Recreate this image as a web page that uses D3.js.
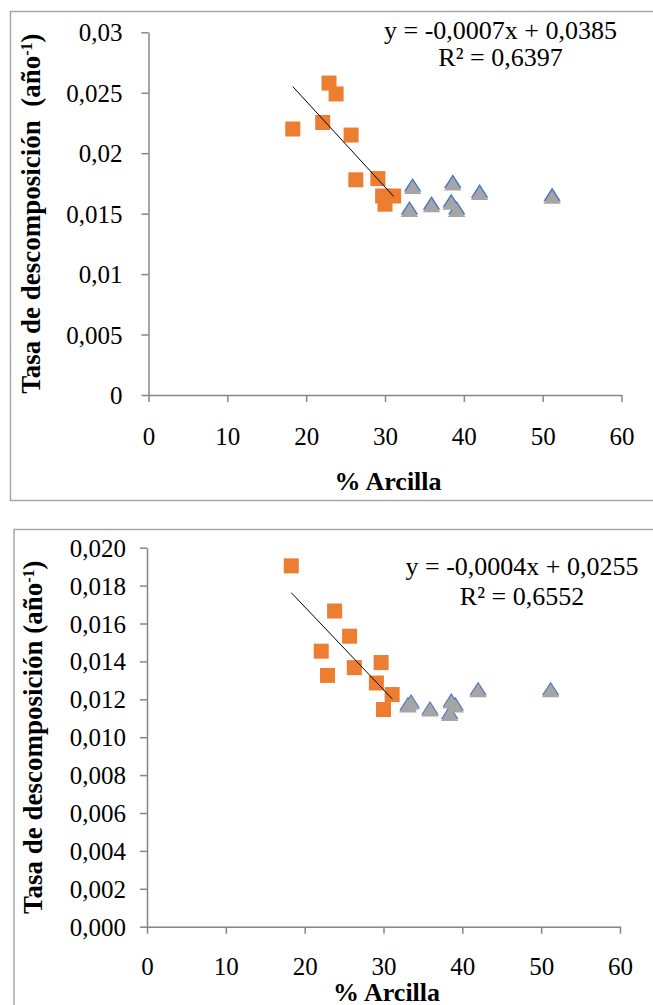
<!DOCTYPE html>
<html>
<head>
<meta charset="utf-8">
<script src="https://cdn.jsdelivr.net/npm/d3@7"></script>
<style>
  body { margin: 0; background: #fff; }
  svg text { font-family: "Liberation Serif", "Tinos", "DejaVu Serif", "Times New Roman", serif; }
  .title { white-space: pre; }
</style>
</head>
<body>
<div id="chart"></div>
<script>
// Clay content (%) - shared by both charts
var claySquares = [18.3, 22.1, 22.9, 23.8, 25.7, 26.3, 29.1, 29.7, 30.0, 31.1];
var clayTriangles = [33.5, 33.1, 35.9, 38.6, 38.4, 39.1, 42.0, 51.2];

// Top chart: decomposition rate
var topSquares = [0.0220, 0.02254, 0.0258, 0.0249, 0.0215, 0.0178, 0.0179, 0.01646, 0.01578, 0.01646];
var topGray = [0.0170, 0.0151, 0.0155, 0.0173, 0.0157, 0.0151, 0.0165, 0.0162];
var topBlue = [0.0172, 0.0153, 0.0157, 0.0175, 0.0159, 0.0153, 0.0167, 0.0164];

// Bottom chart: decomposition rate
var botSquares = [0.01904, 0.01454, 0.01326, 0.01666, 0.01533, 0.01367, 0.01286, 0.01394, 0.01146, 0.01225];
var botGray = [0.01170, 0.01155, 0.01133, 0.01175, 0.01110, 0.01155, 0.01235, 0.01235];
var botBlue = [0.01180, 0.01165, 0.01143, 0.01185, 0.01120, 0.01165, 0.01245, 0.01245];

// Ticks
var xTicks = [0, 10, 20, 30, 40, 50, 60];
var topYTicks = [0, 0.005, 0.01, 0.015, 0.02, 0.025, 0.03];
var topYLabels = ["0", "0,005", "0,01", "0,015", "0,02", "0,025", "0,03"];
var botYTicks = [0, 0.002, 0.004, 0.006, 0.008, 0.01, 0.012, 0.014, 0.016, 0.018, 0.02];
var botYLabels = ["0,000", "0,002", "0,004", "0,006", "0,008", "0,010", "0,012", "0,014", "0,016", "0,018", "0,020"];

var topEquation = ["y = -0,0007x + 0,0385", "R² = 0,6397"];
var botEquation = ["y = -0,0004x + 0,0255", "R² = 0,6552"];

var svg = d3.select("#chart").append("svg").attr("width", 653).attr("height", 1005);

function drawPanel(p) {
  // outer frame
  svg.append("rect")
    .attr("x", p.frame[0]).attr("y", p.frame[1])
    .attr("width", p.frame[2]).attr("height", p.frame[3])
    .attr("fill", "none").attr("stroke", "#a6a6a6").attr("stroke-width", 1.5);

  var x = d3.scaleLinear().domain([0, 60]).range([p.left, p.right]);
  var y = d3.scaleLinear().domain([0, p.yMax]).range([p.bottom, p.top]);

  var yAxis = svg.append("g")
    .attr("transform", "translate(" + p.left + ",0)")
    .call(d3.axisLeft(y).tickValues(p.yTicks)
      .tickFormat(function (d, i) { return p.yLabels[i]; })
      .tickSize(7).tickSizeOuter(0).tickPadding(p.yPad));
  var xAxis = svg.append("g")
    .attr("transform", "translate(0," + p.bottom + ")")
    .call(d3.axisBottom(x).tickValues(xTicks).tickSize(7).tickSizeOuter(0));

  [yAxis, xAxis].forEach(function (a) {
    a.attr("font-family", null);
    a.select(".domain").attr("stroke", "#868686").attr("stroke-width", 1.5);
    a.selectAll(".tick line").attr("stroke", "#868686").attr("stroke-width", 1.5);
    a.selectAll("text").attr("fill", "#000").style("font-size", "25px");
  });
  yAxis.selectAll("text").attr("dy", "0.34em");
  xAxis.selectAll("text").attr("y", p.xLabelY).attr("dy", 0);

  // triangles: blue series underneath, gray on top
  var tri = d3.symbol().type(d3.symbolTriangle).size(120);
  [[p.blue, "#4472c4"], [p.gray, "#a5a5a5"]].forEach(function (s) {
    svg.append("g").selectAll("path")
      .data(clayTriangles)
      .enter()
      .append("path")
      .attr("d", tri)
      .attr("transform", function (d, i) {
        return "translate(" + x(d) + "," + y(s[0][i]) + ") scale(1.05,0.95)";
      })
      .attr("fill", s[1]);
  });

  // squares
  var sq = 15;
  svg.append("g").selectAll("rect")
    .data(claySquares)
    .enter()
    .append("rect")
    .attr("x", function (d) { return x(d) - sq / 2; })
    .attr("y", function (d, i) { return y(p.squares[i]) - sq / 2; })
    .attr("width", sq).attr("height", sq)
    .attr("fill", "#ed7d31");

  // linear trendline (least squares on square series)
  var mx = d3.mean(claySquares), my = d3.mean(p.squares);
  var sxy = d3.sum(claySquares, function (d, i) { return (d - mx) * (p.squares[i] - my); });
  var sxx = d3.sum(claySquares, function (d) { return (d - mx) * (d - mx); });
  var slope = sxy / sxx, icpt = my - slope * mx;
  var ext = d3.extent(claySquares);
  svg.append("line")
    .attr("x1", x(ext[0])).attr("y1", y(icpt + slope * ext[0]))
    .attr("x2", x(ext[1])).attr("y2", y(icpt + slope * ext[1]))
    .attr("stroke", "#000").attr("stroke-width", 1);

  // equation
  p.equation.forEach(function (t, i) {
    svg.append("text")
      .attr("x", p.eqX).attr("y", p.eqY[i])
      .attr("text-anchor", "middle")
      .style("font-size", "26px")
      .text(t);
  });

  // axis titles
  svg.append("text")
    .attr("x", (p.left + p.right) / 2 + 3)
    .attr("y", p.xTitleY)
    .attr("text-anchor", "middle")
    .style("font-size", "26px").style("font-weight", "bold")
    .text("% Arcilla");

  var yt = svg.append("text")
    .attr("class", "title")
    .attr("transform", "translate(" + p.yTitleX + "," + (p.top + p.bottom) / 2 + ") rotate(-90)")
    .attr("text-anchor", "middle")
    .style("font-size", "27px").style("font-weight", "bold");
  yt.append("tspan").text(p.yTitle + "(año");
  yt.append("tspan").attr("baseline-shift", "super").style("font-size", "16px").text("-1");
  yt.append("tspan").text(")");
}

drawPanel({
  frame: [10.5, 11.5, 660, 489],
  left: 148.5, right: 621.5, top: 32.3, bottom: 395,
  yMax: 0.03, yTicks: topYTicks, yLabels: topYLabels, yPad: 19, xLabelY: 50,
  squares: topSquares, gray: topGray, blue: topBlue,
  equation: topEquation, eqX: 500.5, eqY: [38.5, 65.5],
  xTitleY: 490, yTitleX: 40, yTitle: "Tasa de descomposición  "
});

drawPanel({
  frame: [14, 529.5, 660, 500],
  left: 147, right: 620, top: 547.7, bottom: 926.7,
  yMax: 0.02, yTicks: botYTicks, yLabels: botYLabels, yPad: 14, xLabelY: 48,
  squares: botSquares, gray: botGray, blue: botBlue,
  equation: botEquation, eqX: 522, eqY: [575, 605],
  xTitleY: 1001, yTitleX: 42, yTitle: "Tasa de descomposición "
});
</script>
</body>
</html>
